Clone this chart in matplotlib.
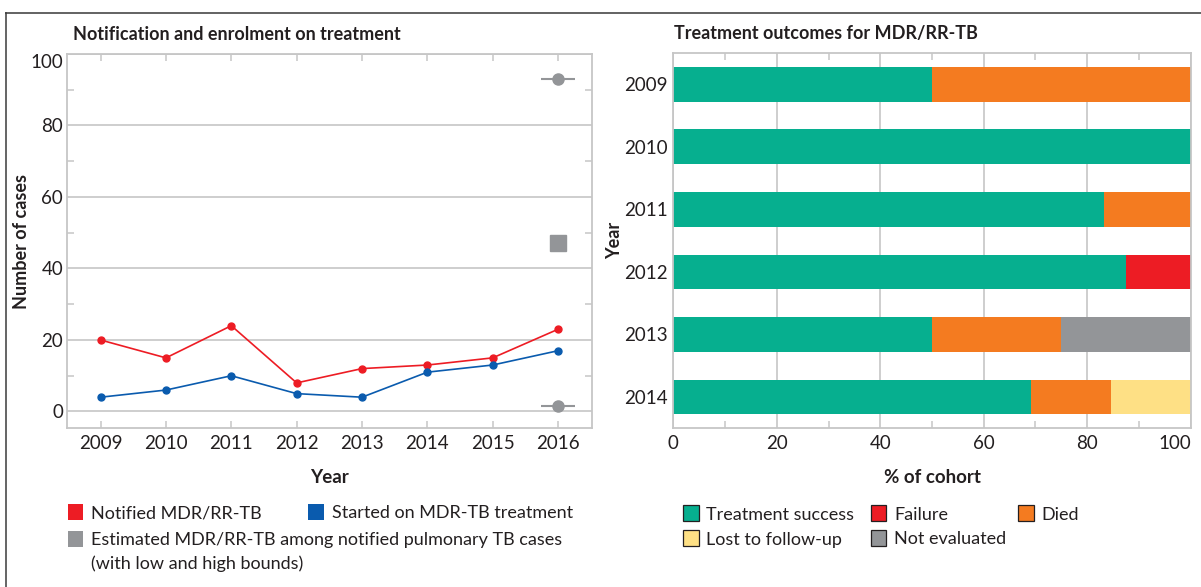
import matplotlib
matplotlib.use("Agg")
import matplotlib.pyplot as plt
from matplotlib.patches import Rectangle
from matplotlib.lines import Line2D
from matplotlib.ticker import FixedLocator
import numpy as np

plt.rcParams['font.family'] = ['Lato', 'DejaVu Sans']

# ---------------- data ----------------
years = [2009, 2010, 2011, 2012, 2013, 2014, 2015, 2016]
notified = [20, 15, 24, 8, 12, 13, 15, 23]
started = [4, 6, 10, 5, 4, 11, 13, 17]
est_year = 2016
est_best = 47
est_low = 1.4
est_high = 93

outcome_years = ['2009', '2010', '2011', '2012', '2013', '2014']
success = [50, 100, 83.3, 87.5, 50, 69.2]
failure = [0, 0, 0, 12.5, 0, 0]
died = [50, 0, 16.7, 0, 25, 15.4]
lost = [0, 0, 0, 0, 0, 15.4]
not_eval = [0, 0, 0, 0, 25, 0]

# ---------------- style ----------------
RED = '#ED1C24'
BLUE = '#0A5BAE'
GREY = '#939598'
GREEN = '#06AF8F'
ORANGE = '#F47B20'
YELLOW = '#FEE085'
TXT = '#231F20'
FRAME = '#C6C6C6'

W, H = 1201, 587
fig = plt.figure(figsize=(W / 100, H / 100), dpi=100)


def fx(px):
    return px / W


def fy(py):
    return 1 - py / H


def box(l, t, r, b):
    return [fx(l), fy(b), fx(r) - fx(l), fy(t) - fy(b)]


# ---------------- left chart ----------------
ax1 = fig.add_axes(box(67.3, 54, 592, 428.3))
ax1.set_xlim(2008.49, 2016.52)
ax1.set_ylim(-4.7, 100)
ax1.yaxis.set_major_locator(FixedLocator([0, 20, 40, 60, 80, 100]))
ax1.yaxis.set_minor_locator(FixedLocator([10, 30, 50, 70, 90]))
ax1.set_yticklabels(['0', '20', '40', '60', '80', '100'])
ax1.get_yticklabels()[-1].set_va('top')
ax1.grid(axis='y', which='major', color=FRAME, lw=1.2, zorder=0)
ax1.set_axisbelow(True)
ax1.set_xticks(years)
ax1.set_xticklabels([str(y) for y in years])
ax1.tick_params(axis='x', which='major', direction='in', length=5, width=1.1,
                color=FRAME, top=True, bottom=True, labelsize=13.5, labelcolor=TXT, pad=5)
ax1.tick_params(axis='y', which='major', length=0, labelsize=13.5, labelcolor=TXT, pad=3)
ax1.tick_params(axis='y', which='minor', direction='in', length=5, width=1.1,
                color=FRAME, left=True, right=True)
for s in ax1.spines.values():
    s.set_color(FRAME)
    s.set_linewidth(1.3)

ax1.plot(years, notified, color=RED, lw=1.2, marker='o', ms=5, zorder=3)
ax1.plot(years, started, color=BLUE, lw=1.2, marker='o', ms=5, zorder=3)
ax1.hlines([est_low, est_high], est_year - 0.26, est_year + 0.26, color=GREY, lw=1.5, zorder=3)
ax1.plot([est_year, est_year], [est_low, est_high], ls='none', marker='o', ms=8, color=GREY, zorder=4)
ax1.plot([est_year], [est_best], ls='none', marker='s', ms=11, color=GREY, zorder=4)

ax1.set_xlabel('Year', fontsize=13.5, fontweight='bold', color=TXT)
ax1.xaxis.set_label_coords(0.5, -0.108)
ax1.set_ylabel('Number of cases', fontsize=13, fontweight='bold', color=TXT)
ax1.yaxis.set_label_coords(-0.071, 0.5)

fig.text(fx(73), fy(34), 'Notification and enrolment on treatment', fontsize=13,
         fontweight='bold', color=TXT, ha='left', va='center')

# ---------------- right chart ----------------
ax2 = fig.add_axes(box(673.3, 53, 1190.7, 428.3))
ypos = np.arange(len(outcome_years))
left = np.zeros(len(outcome_years))
for vals, col in [(success, GREEN), (failure, RED), (died, ORANGE), (lost, YELLOW), (not_eval, GREY)]:
    ax2.barh(ypos, vals, left=left, height=0.555, color=col, lw=0, zorder=2)
    left = left + np.array(vals)
ax2.set_xlim(0, 100)
ax2.set_ylim(5.5, -0.5)
ax2.set_yticks(ypos)
ax2.set_yticklabels(outcome_years)
ax2.xaxis.set_major_locator(FixedLocator([0, 20, 40, 60, 80, 100]))
ax2.xaxis.set_minor_locator(FixedLocator([10, 30, 50, 70, 90]))
ax2.set_xticklabels(['0', '20', '40', '60', '80', '100'])
ax2.get_xticklabels()[-1].set_ha('right')
ax2.grid(axis='x', which='major', color=FRAME, lw=1.2, zorder=0)
ax2.set_axisbelow(True)
ax2.tick_params(axis='x', which='major', length=0, labelsize=13.5, labelcolor=TXT, pad=5)
ax2.tick_params(axis='x', which='minor', direction='in', length=5, width=1.1,
                color=FRAME, top=True, bottom=True)
ax2.tick_params(axis='y', which='major', length=0, labelsize=13.5, labelcolor=TXT, pad=4)
for s in ax2.spines.values():
    s.set_color(FRAME)
    s.set_linewidth(1.3)
ax2.set_xlabel('% of cohort', fontsize=13.5, fontweight='bold', color=TXT)
ax2.xaxis.set_label_coords(0.5, -0.108)
ax2.set_ylabel('Year', fontsize=13, fontweight='bold', color=TXT)
ax2.yaxis.set_label_coords(-0.097, 0.5)

fig.text(fx(674), fy(34), 'Treatment outcomes for MDR/RR-TB', fontsize=13,
         fontweight='bold', color=TXT, ha='left', va='center')

# ---------------- legends ----------------
def legend_item(x, yc, color, label, edge=False):
    sz = 15.5
    fig.patches.append(Rectangle((fx(x), fy(yc + sz / 2)), sz / W, sz / H,
                                 transform=fig.transFigure, facecolor=color,
                                 edgecolor=TXT if edge else 'none',
                                 lw=0.9 if edge else 0))
    fig.text(fx(x + 23.5), fy(yc), label, fontsize=13, color=TXT, ha='left',
             va='center_baseline')

legend_item(67.7, 512, RED, 'Notified MDR/RR-TB')
legend_item(308.4, 512, BLUE, 'Started on MDR-TB treatment')
legend_item(67.7, 539, GREY, 'Estimated MDR/RR-TB among notified pulmonary TB cases')
fig.text(fx(91.2), fy(562), '(with low and high bounds)', fontsize=13, color=TXT,
         ha='left', va='center_baseline')

legend_item(683, 513, GREEN, 'Treatment success', edge=True)
legend_item(870.5, 513, RED, 'Failure', edge=True)
legend_item(1018, 513, ORANGE, 'Died', edge=True)
legend_item(683, 538, YELLOW, 'Lost to follow-up', edge=True)
legend_item(870.5, 538, GREY, 'Not evaluated', edge=True)

# ---------------- outer border ----------------
fig.add_artist(Line2D([fx(5.5), 1], [fy(12.7), fy(12.7)], transform=fig.transFigure,
                      color='#626262', lw=1.4))
fig.add_artist(Line2D([fx(5.5), fx(5.5)], [fy(12.7), 0], transform=fig.transFigure,
                      color='#3A3A3A', lw=1.1))

fig.savefig('out.png', dpi=100)
